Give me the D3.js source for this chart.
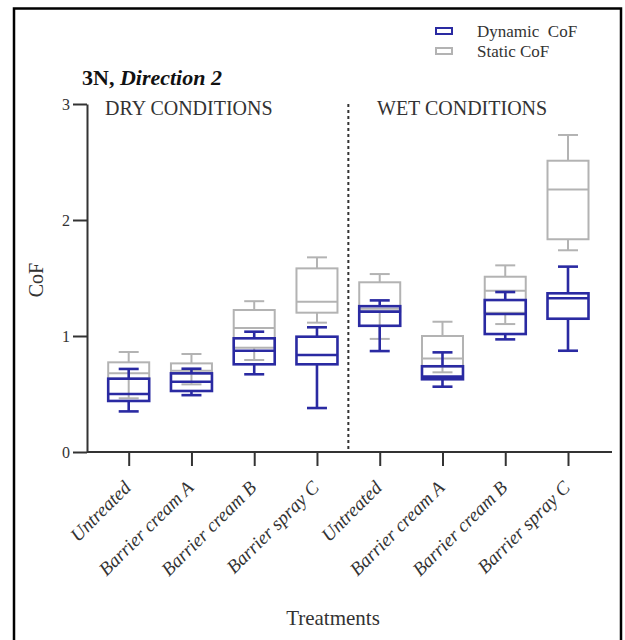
<!DOCTYPE html>
<html>
<head>
<meta charset="utf-8">
<script src="https://cdn.jsdelivr.net/npm/d3@7"></script>
<style>
  body { margin: 0; background: #fff; }
  svg text { font-family: "Liberation Serif", "Times New Roman", serif; }
</style>
</head>
<body>
<div id="chart"></div>
<script>
// categories along the x axis (dry block then wet block)
var categories = ["Untreated", "Barrier cream A", "Barrier cream B", "Barrier spray C",
                  "Untreated", "Barrier cream A", "Barrier cream B", "Barrier spray C"];
var conditions = ["DRY CONDITIONS", "WET CONDITIONS"];
var yTicks = [0, 1, 2, 3];

// box stats per category: [min, q1, median, q3, max]
var dynamicCoF = [
  [0.35, 0.44, 0.50, 0.632, 0.716],
  [0.49, 0.526, 0.606, 0.678, 0.718],
  [0.67, 0.756, 0.873, 0.98, 1.037],
  [0.379, 0.756, 0.836, 0.994, 1.075],
  [0.87, 1.088, 1.21, 1.257, 1.307],
  [0.563, 0.627, 0.65, 0.739, 0.859],
  [0.971, 1.017, 1.19, 1.31, 1.379],
  [0.873, 1.149, 1.325, 1.368, 1.598]
];
var staticCoF = [
  [0.463, 0.632, 0.678, 0.773, 0.862],
  [0.583, 0.678, 0.70, 0.764, 0.845],
  [0.793, 0.899, 1.069, 1.224, 1.30],
  [1.115, 1.201, 1.296, 1.583, 1.678],
  [0.975, 1.21, 1.235, 1.463, 1.534],
  [0.687, 0.739, 0.805, 1.0, 1.123],
  [1.103, 1.2, 1.39, 1.511, 1.609],
  [1.739, 1.834, 2.264, 2.511, 2.733]
];

var series = [
  {name: "Static CoF", values: staticCoF, color: "#b3b3b3", width: 2},
  {name: "Dynamic CoF", values: dynamicCoF, color: "#2a2aa2", width: 2.6}
];

var W = 625, H = 640;
var svg = d3.select("#chart").append("svg")
    .attr("width", W)
    .attr("height", H);

// outer frame
svg.append("path")
    .attr("d", "M14,650 L14,8.5 L621,8.5 L621,650")
    .attr("fill", "none")
    .attr("stroke", "#000")
    .attr("stroke-width", 2.5);

var axisLeftX = 87, axisRightX = 612;

var y = d3.scaleLinear().domain([0, 3]).range([452, 104]);
var x = d3.scalePoint()
    .domain(d3.range(categories.length))
    .range([128.7, 568]);

// y axis
var yAxis = svg.append("g")
    .attr("transform", "translate(" + axisLeftX + ",0)")
    .call(d3.axisLeft(y).tickValues(yTicks).tickSize(14).tickSizeOuter(0).tickPadding(3).tickFormat(d3.format("d")));
yAxis.select(".domain").attr("stroke", "#333").attr("stroke-width", 2);
yAxis.selectAll(".tick line").attr("stroke", "#333").attr("stroke-width", 2);
yAxis.selectAll(".tick text").attr("font-size", 16).attr("fill", "#333")
    .style("font-family", "Liberation Serif");

// x axis
var xAxis = svg.append("g")
    .attr("transform", "translate(0," + y(0) + ")")
    .call(d3.axisBottom(x).tickSize(14).tickSizeOuter(0).tickFormat(function(i) { return categories[i]; }));
xAxis.select(".domain").remove();
xAxis.append("line")
    .attr("x1", axisLeftX).attr("x2", axisRightX)
    .attr("stroke", "#333").attr("stroke-width", 2);
xAxis.selectAll(".tick line").attr("stroke", "#333").attr("stroke-width", 2);
xAxis.selectAll(".tick text")
    .attr("font-size", 19)
    .attr("font-style", "italic")
    .attr("fill", "#333")
    .attr("text-anchor", "end")
    .attr("x", 0).attr("y", 0).attr("dy", "0.35em")
    .attr("transform", "translate(-2,32) rotate(-45)")
    .style("font-family", "Liberation Serif");

// dashed divider between dry and wet
var midX = (x(3) + x(4)) / 2;
svg.append("line")
    .attr("x1", midX).attr("x2", midX)
    .attr("y1", y(3)).attr("y2", y(0))
    .attr("stroke", "#333")
    .attr("stroke-width", 2)
    .attr("stroke-dasharray", "3,3");

// condition labels
svg.selectAll(".cond")
  .data(conditions)
  .enter().append("text")
    .attr("x", function(d, i) { return i == 0 ? 105 : 377; })
    .attr("y", 115)
    .attr("font-size", 20)
    .attr("fill", "#333")
    .text(function(d) { return d; });

// boxes
var boxW = 41, capW = 20;
series.forEach(function(s) {
  var g = svg.append("g")
      .attr("fill", "none")
      .attr("stroke", s.color)
      .attr("stroke-width", s.width);
  var b = g.selectAll("g").data(s.values).enter().append("g")
      .attr("transform", function(d, i) { return "translate(" + x(i) + ",0)"; });
  // whiskers
  b.append("line").attr("y1", function(d) { return y(d[0]); }).attr("y2", function(d) { return y(d[1]); });
  b.append("line").attr("y1", function(d) { return y(d[3]); }).attr("y2", function(d) { return y(d[4]); });
  // caps
  b.append("line").attr("x1", -capW / 2).attr("x2", capW / 2)
      .attr("y1", function(d) { return y(d[0]); }).attr("y2", function(d) { return y(d[0]); });
  b.append("line").attr("x1", -capW / 2).attr("x2", capW / 2)
      .attr("y1", function(d) { return y(d[4]); }).attr("y2", function(d) { return y(d[4]); });
  // box
  b.append("rect")
      .attr("x", -boxW / 2).attr("width", boxW)
      .attr("y", function(d) { return y(d[3]); })
      .attr("height", function(d) { return y(d[1]) - y(d[3]); });
  // median
  b.append("line").attr("x1", -boxW / 2).attr("x2", boxW / 2)
      .attr("y1", function(d) { return y(d[2]); }).attr("y2", function(d) { return y(d[2]); });
});

// title
var title = svg.append("text")
    .attr("x", 82).attr("y", 85)
    .attr("font-size", 22)
    .attr("font-weight", "bold")
    .attr("fill", "#111");
title.append("tspan").text("3N, ");
title.append("tspan").attr("font-style", "italic").text("Direction 2");

// axis titles
svg.append("text")
    .attr("transform", "translate(43,280) rotate(-90)")
    .attr("text-anchor", "middle")
    .attr("font-size", 20)
    .attr("fill", "#333")
    .text("CoF");
svg.append("text")
    .attr("x", 333).attr("y", 625)
    .attr("text-anchor", "middle")
    .attr("font-size", 21)
    .attr("fill", "#333")
    .text("Treatments");

// legend
var legendItems = [series[1], series[0]];
var lg = svg.selectAll(".legend").data(legendItems).enter().append("g")
    .attr("transform", function(d, i) { return "translate(436," + (31 + i * 20) + ")"; });
lg.append("rect")
    .attr("x", 0).attr("y", -3)
    .attr("width", 16).attr("height", 6)
    .attr("fill", "none")
    .attr("stroke", function(d) { return d.color; })
    .attr("stroke-width", 2);
lg.append("text")
    .attr("x", 41).attr("y", 0).attr("dy", "0.35em")
    .attr("font-size", 17)
    .attr("fill", "#333")
    .style("white-space", "pre")
    .text(function(d) { return d.name == "Dynamic CoF" ? "Dynamic  CoF" : d.name; });
</script>
</body>
</html>
